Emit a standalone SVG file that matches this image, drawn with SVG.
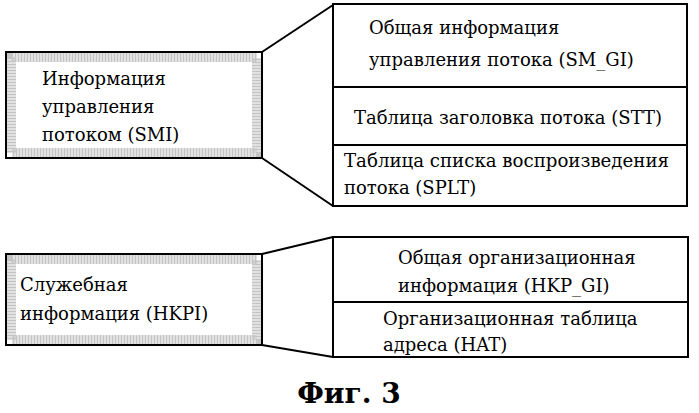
<svg xmlns="http://www.w3.org/2000/svg" width="699" height="413" viewBox="0 0 699 413" font-family="'DejaVu Serif',serif">
<style>
.box{fill:#fff;stroke:#000;stroke-width:2}
.fr{fill:none;stroke:#c4c4c4;stroke-width:9;stroke-dasharray:2 1}
.ln{stroke:#000;stroke-width:2;fill:none}
text{font-family:'DejaVu Serif',serif;font-size:18px;fill:#000}
</style>
<rect width="699" height="413" fill="#fff"/>
<g id="connectors">
<line class="ln" x1="262" y1="52" x2="333" y2="5"/>
<line class="ln" x1="262" y1="158" x2="333" y2="206"/>
<line class="ln" x1="262" y1="254" x2="333" y2="237"/>
<line class="ln" x1="262" y1="345" x2="333" y2="357"/>
</g>
<g id="smi">
<rect class="box" x="6" y="52" width="256" height="106"/>
<rect class="fr" x="11.5" y="57.5" width="245" height="95"/>
<rect x="17" y="63" width="222" height="84" fill="#fff"/>
<text x="42" y="85">Информация</text>
<text x="42" y="113">управления</text>
<text x="42" y="141">потоком  (SMI)</text>
</g>
<g id="smi-table">
<rect class="box" x="333" y="4" width="354" height="202"/>
<line class="ln" x1="333" y1="87" x2="687" y2="87"/>
<line class="ln" x1="333" y1="145" x2="687" y2="145"/>
<text x="369" y="34">Общая информация</text>
<text x="369" y="66">управления потока  (SM_GI)</text>
<text x="354" y="124">Таблица заголовка потока (STT)</text>
<text x="344" y="167" textLength="325" lengthAdjust="spacingAndGlyphs">Таблица списка воспроизведения</text>
<text x="344" y="194">потока (SPLT)</text>
</g>
<g id="hkpi">
<rect class="box" x="6" y="254" width="256" height="91"/>
<rect class="fr" x="11.5" y="259.5" width="245" height="80"/>
<rect x="17" y="265" width="222" height="69" fill="#fff"/>
<text x="20" y="291">Служебная</text>
<text x="20" y="320">информация (HKPI)</text>
</g>
<g id="hkpi-table">
<rect class="box" x="333" y="237" width="355" height="120"/>
<line class="ln" x1="333" y1="302" x2="688" y2="302"/>
<text x="398" y="264">Общая организационная</text>
<text x="398" y="292">информация  (HKP_GI)</text>
<text x="383" y="325">Организационная таблица</text>
<text x="383" y="351">адреса (HAT)</text>
</g>
<text x="349" y="403" text-anchor="middle" style="font-size:28px;font-weight:bold">Фиг.  3</text>
</svg>
